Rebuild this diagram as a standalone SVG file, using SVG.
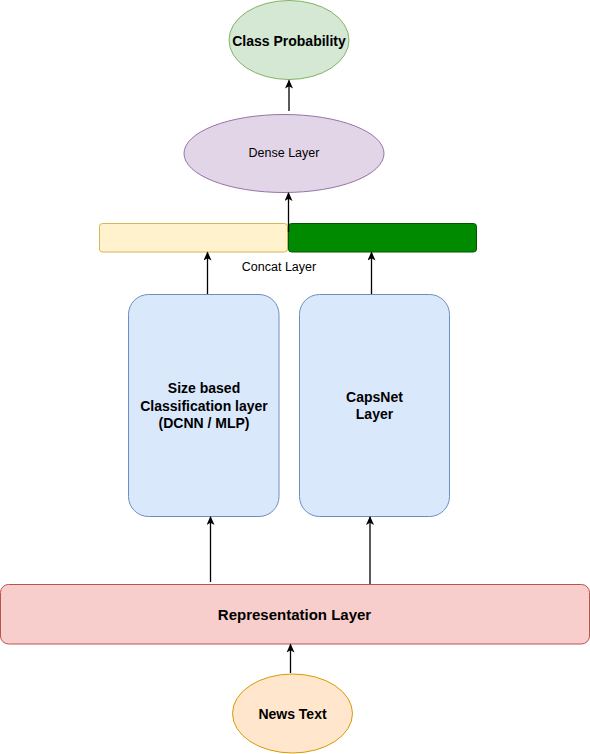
<svg xmlns="http://www.w3.org/2000/svg" width="590" height="754" viewBox="0 0 590 754">
<style>
text{font-family:"Liberation Sans",Arial,sans-serif;fill:#000;text-anchor:middle;dominant-baseline:central}
.b{font-weight:bold}
.edge{stroke:#000;stroke-width:1.3;fill:none;marker-end:url(#arr)}
</style>
<defs>
<marker id="arr" markerWidth="10" markerHeight="10" refX="8" refY="4" orient="auto" markerUnits="userSpaceOnUse">
<path d="M0,0 L9,4 L0,8 L2.2,4 Z" fill="#000"/>
</marker>
</defs>
<rect width="590" height="754" fill="#fff"/>
<g id="class-probability">
<ellipse cx="289" cy="40" rx="60" ry="39.5" fill="#d5e8d4" stroke="#82b366"/>
<text class="b" x="289" y="41" font-size="14">Class Probability</text>
</g>
<g id="dense-layer">
<ellipse cx="284" cy="153.5" rx="100" ry="39" fill="#e1d5e7" stroke="#9673a6"/>
<text x="284" y="153" font-size="12.5">Dense Layer</text>
</g>
<g id="concat-layer">
<rect x="99.5" y="223.5" width="188" height="28.5" rx="3" fill="#fff2cc" stroke="#d6b656"/>
<rect x="288.5" y="223.5" width="188" height="28.5" rx="3" fill="#008a00" stroke="#005700"/>
<text x="279" y="267" font-size="12.5">Concat Layer</text>
</g>
<g id="size-classification">
<rect x="128.5" y="294.5" width="150.5" height="222" rx="20" fill="#dae8fc" stroke="#6c8ebf"/>
<text class="b" font-size="14" x="204" y="388">Size based</text>
<text class="b" font-size="14" x="204" y="406">Classification layer</text>
<text class="b" font-size="14" x="204" y="423">(DCNN / MLP)</text>
</g>
<g id="capsnet">
<rect x="299.5" y="294.5" width="150" height="222" rx="20" fill="#dae8fc" stroke="#6c8ebf"/>
<text class="b" font-size="14" x="374.5" y="397">CapsNet</text>
<text class="b" font-size="14" x="374.5" y="414">Layer</text>
</g>
<g id="representation-layer">
<rect x="0.5" y="584.5" width="589" height="59.5" rx="8" fill="#f8cecc" stroke="#b85450"/>
<text class="b" x="294.5" y="614.5" font-size="15">Representation Layer</text>
</g>
<g id="news-text">
<ellipse cx="292.5" cy="713.5" rx="60" ry="39.5" fill="#ffe6cc" stroke="#d79b00"/>
<text class="b" x="292.5" y="714" font-size="14">News Text</text>
</g>
<g id="connectors">
<path class="edge" d="M289,111 V80.5"/>
<path class="edge" d="M288.5,232 V193"/>
<path class="edge" d="M207.5,294 V252.5"/>
<path class="edge" d="M371.5,294 V252.5"/>
<path class="edge" d="M210.5,582 V517"/>
<path class="edge" d="M370,584 V517"/>
<path class="edge" d="M290.5,673 V644.5"/>
</g>
</svg>
